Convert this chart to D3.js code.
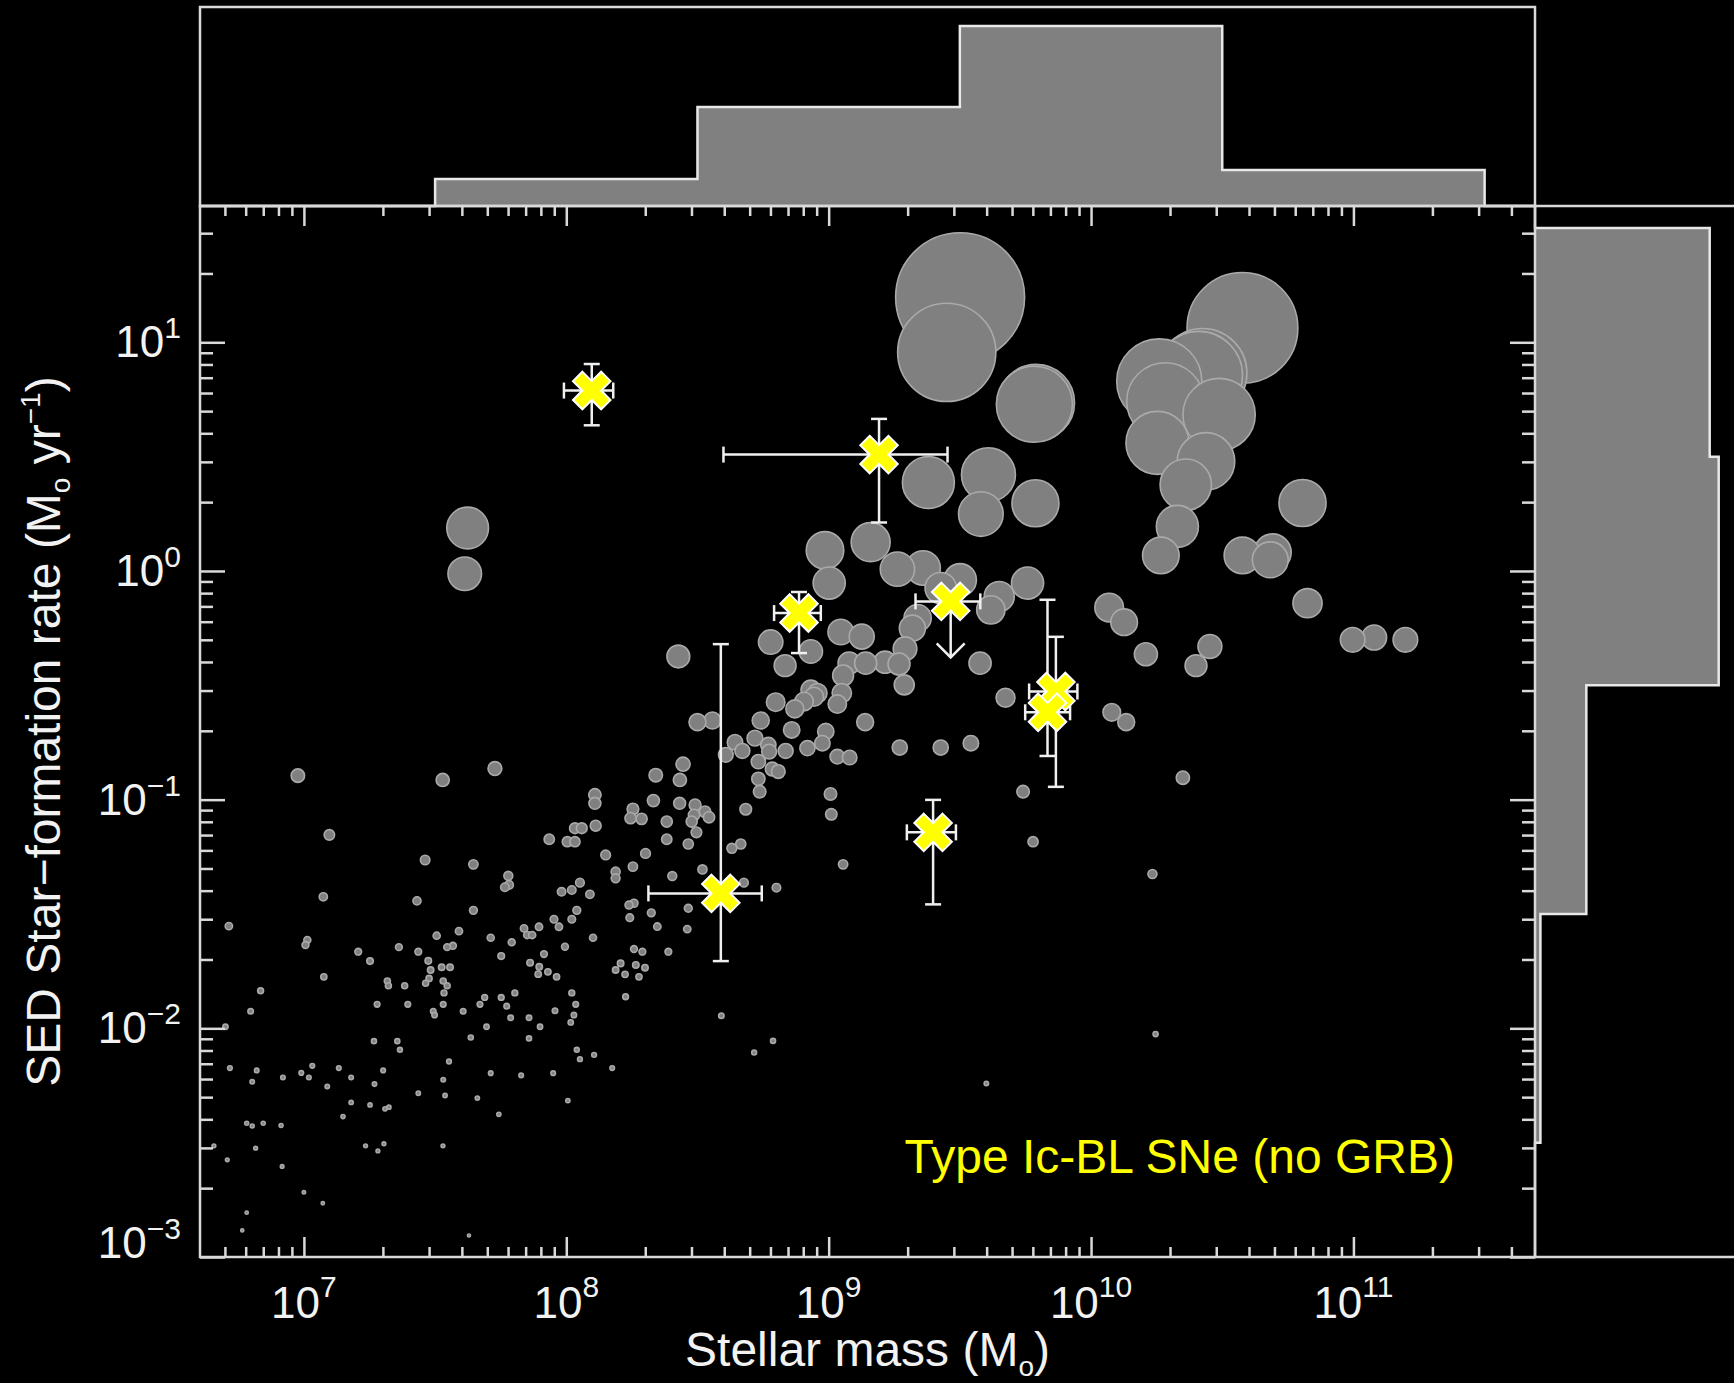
<!DOCTYPE html>
<html>
<head>
<meta charset="utf-8">
<script src="https://cdn.jsdelivr.net/npm/d3@7"></script>
<style>
  html, body { margin: 0; padding: 0; background: #000; }
  svg { display: block; }
</style>
</head>
<body>
<svg id="chart" width="1734" height="1383"></svg>
<script>
// ---------------------------------------------------------------
// Host-galaxy comparison sample: log10 stellar mass (Msun) and
// log10 SED star-formation rate (Msun/yr)
// ---------------------------------------------------------------
const hostLogMass = [
  7.624, 7.613,
  9.501, 9.450, 9.380, 9.609, 9.580, 9.160, 8.986, 9.002, 9.262, 9.360, 9.501, 9.427, 9.758, 9.650, 9.618, 9.339,
  9.791, 9.784, 9.788,
  10.577, 10.425, 10.410, 10.260, 10.283, 10.488, 10.253, 10.438, 10.361, 10.329, 10.266, 10.806, 10.577, 10.692, 10.683,
  10.069, 10.126, 10.825, 10.209, 10.453, 10.400, 10.997, 11.079, 11.198,
  10.079, 10.134, 10.350, 10.234, 10.246,
  8.427, 8.779, 8.834, 8.932, 9.046, 9.126, 9.319, 9.291, 9.078, 9.141, 9.215, 9.268, 9.288, 9.055, 9.050, 9.033,
  8.957, 8.932, 8.906, 8.871, 8.798, 8.741, 8.859, 8.989, 8.976, 8.919, 8.836, 8.719, 8.770, 8.773, 8.643, 8.671,
  8.608, 8.732, 8.785, 8.808, 8.732, 8.737, 9.033, 9.080, 9.139, 9.271, 9.427, 9.542, 9.577, 9.674, 9.741, 9.779,
  9.007, 9.010, 9.055, 8.944, 8.684, 8.665, 8.631, 8.677, 8.801, 8.519, 8.404, 8.465, 8.461, 8.389, 8.347, 8.324,
  8.242, 8.258, 8.239, 8.258, 8.290, 8.265, 8.300, 8.224, 8.277, 8.207, 8.226, 8.591, 8.788, 8.716, 9.601, 8.341,
  8.445, 8.433, 8.332, 8.254, 8.245, 8.287, 8.383, 8.432, 8.491, 8.487, 8.529, 8.544, 8.478, 8.496, 8.383, 8.465,
  8.302, 8.254, 8.500, 8.557,
  6.977, 7.529, 7.728, 7.097, 7.462, 7.646, 7.074, 6.714, 7.013, 7.006, 7.431, 7.646, 7.935, 8.004, 8.033, 8.033,
  8.059, 8.109, 8.109, 8.112, 8.150, 8.188, 8.188, 7.779, 7.766, 7.782, 7.982, 8.021, 8.052, 8.090, 8.040, 8.021,
  7.953, 7.972, 7.896, 7.839, 7.851, 7.870, 8.102, 7.995, 7.915, 7.897, 7.930, 7.963, 7.893, 7.862, 7.792, 7.752,
  7.712, 7.591, 7.506, 7.568, 7.546, 7.436, 7.362, 7.207, 7.252, 7.474, 7.483, 7.525, 7.557, 7.477, 7.464, 7.318,
  7.322, 7.384, 7.531, 7.546, 7.534, 7.531, 7.396, 7.279, 7.493, 7.498, 7.607, 7.671, 7.689, 7.752, 7.804, 7.773,
  7.788, 7.858, 7.900, 7.696, 7.957, 8.021, 8.036, 8.029, 8.017, 8.188, 6.797, 6.835, 7.076, 6.701, 7.267, 7.356,
  7.636, 7.858,
  6.718, 6.820, 6.803, 6.920, 6.990, 7.019, 7.032, 7.089, 7.133, 7.180, 7.180, 7.149, 7.252, 7.269, 7.302, 7.309,
  7.324, 7.235, 7.282, 7.305, 7.436, 7.531, 7.538, 7.553, 7.530, 7.661, 7.712, 7.743, 7.828, 7.950, 8.006, 8.040,
  8.052, 8.106, 8.175, 7.366, 6.708, 6.657, 6.782, 6.803, 6.845, 6.913, 6.816, 6.917, 7.000, 7.072, 6.782, 6.765,
  7.629
];
const hostLogSFR = [
  0.188, -0.012,
  1.197, 0.956, 0.387, 0.421, 0.249, 0.126, 0.090, -0.053, 0.008, 0.013, -0.039, -0.075, -0.053, -0.112, -0.170, -0.206,
  0.736, 0.729, 0.296,
  1.063, 0.866, 0.856, 0.829, 0.742, 0.684, 0.560, 0.479, 0.377, 0.195, 0.068, 0.297, 0.068, 0.081, 0.049,
  -0.160, -0.224, -0.141, -0.364, -0.330, -0.414, -0.301, -0.291, -0.301,
  -0.618, -0.661, -0.904, -1.325, -2.025,
  -0.374, -0.311, -0.414, -0.352, -0.267, -0.287, -0.250, -0.340, -0.403, -0.403, -0.399, -0.407, -0.498, -0.457, -0.534, -0.582,
  -0.534, -0.520, -0.571, -0.603, -0.574, -0.654, -0.695, -0.702, -0.753, -0.775, -0.787, -0.731, -0.761, -0.790, -0.749, -0.787,
  -0.804, -0.834, -0.866, -0.877, -0.909, -0.965, -0.812, -0.816, -0.661, -0.772, -0.772, -0.753, -0.403, -0.554, -0.965, -1.184,
  -0.975, -1.064, -1.283, -0.550, -1.042, -1.194, -1.213, -1.363, -1.385, -1.305, -1.334, -1.475, -1.566, -1.665, -1.555, -1.495,
  -1.516, -1.453, -1.461, -1.653, -1.665, -1.723, -1.735, -1.764, -1.775, -1.716, -1.862, -1.945, -2.055, -2.106, -2.241, -0.893,
  -0.845, -0.914, -1.004, -1.041, -1.081, -1.084, -1.096, -1.016, -1.023, -1.067, -1.053, -1.077, -1.096, -1.143, -1.173, -1.194,
  -1.235, -1.293, -0.661, -0.654,
  -0.895, -0.914, -0.864, -1.154, -1.264, -1.283, -1.425, -1.553, -1.614, -1.636, -1.443, -1.484, -1.173, -1.184, -1.184, -1.125,
  -1.125, -0.979, -1.016, -1.114, -1.242, -1.315, -1.344, -1.333, -1.383, -1.373, -1.403, -1.395, -1.363, -1.414, -1.484, -1.523,
  -1.523, -1.556, -1.556, -1.563, -1.592, -1.592, -1.604, -1.643, -1.675, -1.731, -1.753, -1.775, -1.763, -1.713, -1.624, -1.684,
  -1.604, -1.575, -1.595, -1.639, -1.645, -1.665, -1.645, -1.665, -1.706, -1.705, -1.745, -1.733, -1.733, -1.782, -1.803, -1.793,
  -1.814, -1.814, -1.793, -1.814, -1.845, -1.895, -1.895, -1.895, -1.925, -1.942, -1.925, -1.895, -1.865, -1.865, -1.845, -1.903,
  -1.954, -1.954, -1.993, -1.993, -1.923, -1.845, -1.895, -1.942, -1.974, -1.745, -1.925, -1.836, -1.775, -1.993, -2.056, -2.056,
  -2.040, -2.044,
  -2.174, -2.184, -2.234, -2.215, -2.195, -2.215, -2.164, -2.254, -2.174, -2.215, -2.324, -2.386, -2.335, -2.244, -2.184, -2.352,
  -2.345, -2.514, -2.536, -2.505, -2.284, -2.225, -2.294, -2.145, -2.514, -2.305, -2.196, -2.376, -2.206, -2.196, -2.316, -2.094,
  -2.135, -2.116, -2.174, -2.094, -2.575, -2.514, -2.415, -2.427, -2.415, -2.425, -2.524, -2.604, -2.717, -2.765, -2.806, -2.884,
  -2.906
];

// ---------------------------------------------------------------
// Type Ic-BL supernova hosts (no GRB): log10 mass, log10 SFR, ranges
// ---------------------------------------------------------------
const snLogMass    = [8.097, 9.192, 8.887, 9.465, 8.589, 9.398, 9.866, 9.834];
const snLogMassLo  = [7.991, 8.599, 8.792, 9.331, 8.313, 9.298, 9.764, 9.749];
const snLogMassHi  = [8.179, 9.453, 8.970, 9.578, 8.745, 9.485, 9.948, 9.920];
const snLogSFR     = [0.789, 0.509, -0.184, -0.133, -1.410, -1.143, -0.527, -0.618];
const snLogSFRLo   = [0.637, 0.212, -0.359, -0.133, -1.706, -1.458, -0.944, -0.809];
const snLogSFRHi   = [0.905, 0.665, -0.092, -0.133, -0.320, -1.001, -0.288, -0.126];
const snUpperLimit = [false, false, false, true, false, false, false, false];

// Marginal histograms (1-dex bins)
const massBinEdges = [7.5, 8.5, 9.5, 10.5, 11.5];
const massCounts   = [3, 11, 20, 4];
const sfrBinEdges  = [-2.5, -1.5, -0.5, 0.5, 1.5];
const sfrCounts    = [0.6, 5.7, 20.4, 19.4];

// Axis labels
const xTickExponents = [7, 8, 9, 10, 11];
const yTickExponents = [-3, -2, -1, 0, 1];
const labelText = "Type Ic-BL SNe (no GRB)";

// ---------------------------------------------------------------
const W = 1734, H = 1383;
const plot = { left: 200, right: 1535, top: 206, bottom: 1257 };
const topPanelTop = 7;
const rightPanelEdge = 1734;
const FONT = "'Liberation Sans', Arial, Helvetica, sans-serif";
const AXIS = "#d9d9d9";
const TEXT = "#f2f2f2";
const GREY = "#808080";

const svg = d3.select("#chart");
svg.append("rect").attr("width", W).attr("height", H).attr("fill", "#000");

const x = d3.scaleLog().domain([10 ** 6.604, 10 ** 11.692]).range([plot.left, plot.right]);
const y = d3.scaleLog().domain([1e-3, 10 ** 1.596]).range([plot.bottom, plot.top]);
const r = d3.scaleSqrt().domain([0, 1]).range([1, 17]);

// ---------- marginal histograms ----------
const histMax = 22.1;
const hTop = d3.scaleLinear().domain([0, histMax]).range([plot.top, topPanelTop]);
const hRight = d3.scaleLinear().domain([0, histMax]).range([plot.right, rightPanelEdge]);

function stepPoints(edges, counts) {
  const pts = [];
  counts.forEach((c, i) => { pts.push([edges[i], c]); pts.push([edges[i + 1], c]); });
  return pts;
}

// top: stellar mass
{
  const pts = stepPoints(massBinEdges, massCounts);
  const fillLine = d3.line().x(d => x(10 ** d[0])).y(d => hTop(d[1]));
  const closed = [[massBinEdges[0], 0], ...pts, [massBinEdges[massBinEdges.length - 1], 0]];
  svg.append("path").attr("d", fillLine(closed) + "Z").attr("fill", GREY);
  const outline = [[Math.log10(x.domain()[0]), 0], ...closed, [Math.log10(x.domain()[1]), 0]];
  svg.append("path").attr("d", fillLine(outline))
    .attr("fill", "none").attr("stroke", "#e8e8e8").attr("stroke-width", 2.5);
}
// right: SFR
{
  const pts = stepPoints(sfrBinEdges, sfrCounts);
  const fillLine = d3.line().x(d => hRight(d[1])).y(d => y(10 ** d[0]));
  const closed = [[sfrBinEdges[0], 0], ...pts, [sfrBinEdges[sfrBinEdges.length - 1], 0]];
  svg.append("path").attr("d", fillLine(closed) + "Z").attr("fill", GREY);
  const outline = [[Math.log10(y.domain()[0]), 0], ...closed, [Math.log10(y.domain()[1]), 0]];
  svg.append("path").attr("d", fillLine(outline))
    .attr("fill", "none").attr("stroke", "#e8e8e8").attr("stroke-width", 2.5);
}

// panel frames
const frame = svg.append("g").attr("fill", "none").attr("stroke", AXIS).attr("stroke-width", 2.5);
frame.append("rect").attr("x", plot.left).attr("y", topPanelTop)
  .attr("width", plot.right - plot.left).attr("height", plot.top - topPanelTop);
frame.append("line").attr("x1", plot.right).attr("x2", rightPanelEdge).attr("y1", plot.top).attr("y2", plot.top);
frame.append("line").attr("x1", plot.right).attr("x2", rightPanelEdge).attr("y1", plot.bottom).attr("y2", plot.bottom);

// ---------- host sample circles ----------
svg.append("clipPath").attr("id", "plotClip").append("rect")
  .attr("x", plot.left).attr("y", plot.top)
  .attr("width", plot.right - plot.left).attr("height", plot.bottom - plot.top);

const hosts = hostLogMass.map((m, i) => ({ m: 10 ** m, s: 10 ** hostLogSFR[i] }))
  .sort((a, b) => b.s - a.s);

svg.append("g").attr("clip-path", "url(#plotClip)")
  .selectAll("circle").data(hosts).join("circle")
  .attr("cx", d => x(d.m)).attr("cy", d => y(d.s)).attr("r", d => r(d.s))
  .attr("fill", GREY).attr("stroke", "#a9a9a9").attr("stroke-width", 1.6);

// ---------- axes ----------
const xMajor = xTickExponents.map(e => 10 ** e);
const yMajor = yTickExponents.map(e => 10 ** e);
function minorTicks(scale) {
  const [a, b] = scale.domain();
  const out = [];
  for (let e = Math.floor(Math.log10(a)); e <= Math.ceil(Math.log10(b)); e++) {
    for (let k = 2; k <= 9; k++) {
      const v = k * 10 ** e;
      if (v > a && v < b) out.push(v);
    }
  }
  return out;
}
const xMinor = minorTicks(x);
const yMinor = minorTicks(y);

function drawAxis(axis, tx, ty) {
  const g = svg.append("g").attr("transform", `translate(${tx},${ty})`).call(axis);
  g.select(".domain").remove();
  g.selectAll(".tick line").attr("stroke", AXIS).attr("stroke-width", 2.5);
  g.selectAll(".tick text").remove();
}
drawAxis(d3.axisBottom(x).tickValues(xMajor).tickSize(-20).tickFormat(""), 0, plot.bottom);
drawAxis(d3.axisBottom(x).tickValues(xMinor).tickSize(-10).tickFormat(""), 0, plot.bottom);
drawAxis(d3.axisTop(x).tickValues(xMajor).tickSize(-20).tickFormat(""), 0, plot.top);
drawAxis(d3.axisTop(x).tickValues(xMinor).tickSize(-10).tickFormat(""), 0, plot.top);
drawAxis(d3.axisLeft(y).tickValues(yMajor).tickSize(-25).tickFormat(""), plot.left, 0);
drawAxis(d3.axisLeft(y).tickValues(yMinor).tickSize(-13).tickFormat(""), plot.left, 0);
drawAxis(d3.axisRight(y).tickValues(yMajor).tickSize(-25).tickFormat(""), plot.right, 0);
drawAxis(d3.axisRight(y).tickValues(yMinor).tickSize(-13).tickFormat(""), plot.right, 0);

svg.append("rect").attr("x", plot.left).attr("y", plot.top)
  .attr("width", plot.right - plot.left).attr("height", plot.bottom - plot.top)
  .attr("fill", "none").attr("stroke", AXIS).attr("stroke-width", 2.5);

// tick labels
const labels = svg.append("g").attr("font-family", FONT).attr("fill", TEXT);
xTickExponents.forEach(e => {
  const t = labels.append("text").attr("x", x(10 ** e)).attr("y", plot.bottom + 61)
    .attr("text-anchor", "middle").attr("font-size", 44);
  t.append("tspan").text("10");
  t.append("tspan").attr("font-size", 30).attr("dy", -21).text(String(e).replace("-", "\u2212"));
});
yTickExponents.forEach(e => {
  const yy = Math.min(y(10 ** e) + 15, plot.bottom + 1);
  const t = labels.append("text").attr("x", 181).attr("y", yy)
    .attr("text-anchor", "end").attr("font-size", 44);
  t.append("tspan").text("10");
  t.append("tspan").attr("font-size", 30).attr("dy", -19).text(String(e).replace("-", "\u2212"));
});

// axis titles
{
  const t = labels.append("text").attr("x", (plot.left + plot.right) / 2).attr("y", 1366)
    .attr("text-anchor", "middle").attr("font-size", 48);
  t.append("tspan").text("Stellar mass (M");
  t.append("tspan").attr("font-size", 28).attr("dy", 10).text("o");
  t.append("tspan").attr("dy", -10).text(")");
}
{
  const t = labels.append("text")
    .attr("transform", `translate(60,${(plot.top + plot.bottom) / 2}) rotate(-90)`)
    .attr("text-anchor", "middle").attr("font-size", 48);
  t.append("tspan").text("SED Star\u2212formation rate (M");
  t.append("tspan").attr("font-size", 28).attr("dy", 10).text("o");
  t.append("tspan").attr("dy", -10).text(" yr");
  t.append("tspan").attr("font-size", 28).attr("dy", -20).text("\u22121");
  t.append("tspan").attr("dy", 20).text(")");
}

// ---------- Ic-BL SNe ----------
const sn = snLogMass.map((m, i) => ({
  m: 10 ** m, mLo: 10 ** snLogMassLo[i], mHi: 10 ** snLogMassHi[i],
  s: 10 ** snLogSFR[i], sLo: 10 ** snLogSFRLo[i], sHi: 10 ** snLogSFRHi[i],
  ul: snUpperLimit[i]
}));
const eb = svg.append("g").attr("stroke", "#f0f0f0").attr("stroke-width", 2.5).attr("fill", "none");
const cap = 8;
sn.forEach(d => {
  const cx = x(d.m), cy = y(d.s);
  eb.append("line").attr("x1", x(d.mLo)).attr("x2", x(d.mHi)).attr("y1", cy).attr("y2", cy);
  eb.append("line").attr("x1", x(d.mLo)).attr("x2", x(d.mLo)).attr("y1", cy - cap).attr("y2", cy + cap);
  eb.append("line").attr("x1", x(d.mHi)).attr("x2", x(d.mHi)).attr("y1", cy - cap).attr("y2", cy + cap);
  if (d.ul) {
    const tip = cy + 56;
    eb.append("line").attr("x1", cx).attr("x2", cx).attr("y1", cy).attr("y2", tip);
    eb.append("path").attr("d", `M${cx - 14},${tip - 14}L${cx},${tip}L${cx + 14},${tip - 14}`);
  } else {
    eb.append("line").attr("x1", cx).attr("x2", cx).attr("y1", y(d.sLo)).attr("y2", y(d.sHi));
    eb.append("line").attr("x1", cx - cap).attr("x2", cx + cap).attr("y1", y(d.sLo)).attr("y2", y(d.sLo));
    eb.append("line").attr("x1", cx - cap).attr("x2", cx + cap).attr("y1", y(d.sHi)).attr("y2", y(d.sHi));
  }
});
const cross = d3.symbol().type(d3.symbolCross).size(880);
svg.append("g").selectAll("path").data(sn).join("path")
  .attr("d", cross)
  .attr("transform", d => `translate(${x(d.m)},${y(d.s)}) rotate(45)`)
  .attr("fill", "#ffff00").attr("stroke", "#ffffff").attr("stroke-width", 2);

// legend label
svg.append("text").attr("x", 1455).attr("y", 1173).attr("text-anchor", "end")
  .attr("font-family", FONT).attr("font-size", 48).attr("fill", "#ffff00").text(labelText);
</script>
</body>
</html>
